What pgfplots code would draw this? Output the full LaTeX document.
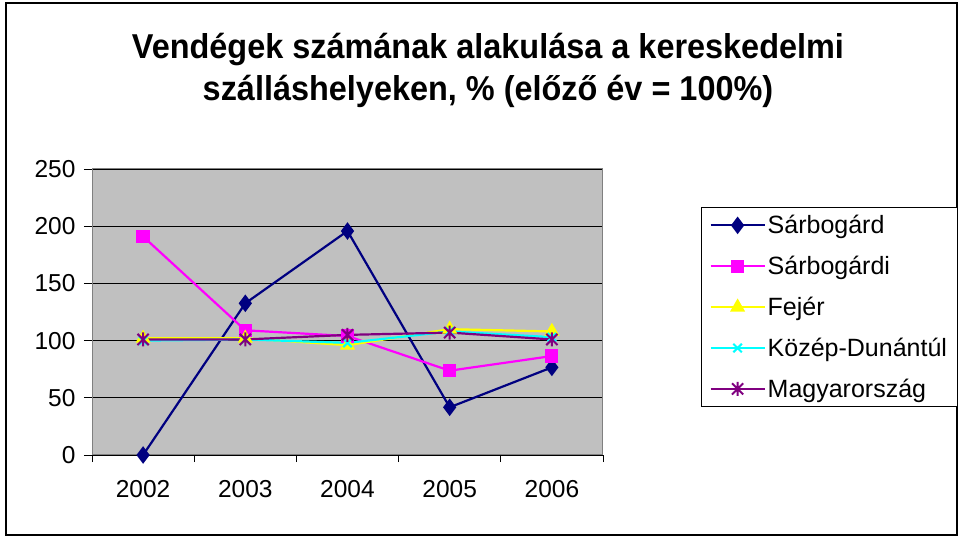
\documentclass[border=0pt]{standalone}
\usepackage{fontspec}
\setmainfont{Liberation Sans}
\newfontfamily\titlefont{Liberation Sans}[FakeStretch=0.94]
\usepackage{pgfplots}
\pgfplotsset{compat=1.18}
\definecolor{plotgray}{HTML}{C0C0C0}
\definecolor{navyc}{HTML}{000080}
\definecolor{magc}{HTML}{FF00FF}
\definecolor{yelc}{HTML}{FFFF00}
\definecolor{cyac}{HTML}{00FFFF}
\definecolor{purc}{HTML}{800080}
\pgfdeclareplotmark{exstar}{%
  \pgfpathmoveto{\pgfqpoint{-0.8\pgfplotmarksize}{-0.8\pgfplotmarksize}}%
  \pgfpathlineto{\pgfqpoint{0.8\pgfplotmarksize}{0.8\pgfplotmarksize}}%
  \pgfpathmoveto{\pgfqpoint{-0.8\pgfplotmarksize}{0.8\pgfplotmarksize}}%
  \pgfpathlineto{\pgfqpoint{0.8\pgfplotmarksize}{-0.8\pgfplotmarksize}}%
  \pgfpathmoveto{\pgfqpoint{0pt}{-\pgfplotmarksize}}%
  \pgfpathlineto{\pgfqpoint{0pt}{\pgfplotmarksize}}%
  \pgfusepathqstroke}
\begin{document}
\begin{tikzpicture}
\fill[white] (0bp,0bp) rectangle (959bp,536bp);
\draw[black, line width=2bp] (6bp,1bp) rectangle (957bp,533bp);
\node[align=center, font=\titlefont\fontsize{34.5bp}{42bp}\selectfont\bfseries] at (488bp,466bp)
  {Vendégek számának alakulása a kereskedelmi\\szálláshelyeken, \% (előző év = 100\%)};
\begin{axis}[
  at={(92bp,81bp)}, anchor=south west,
  scale only axis, width=511bp, height=286bp,
  xmin=-0.5, xmax=4.5, ymin=0, ymax=250,
  xtick={0,1,2,3,4},
  xticklabels={2002,2003,2004,2005,2006},
  minor xtick={-0.5,0.5,1.5,2.5,3.5,4.5},
  ytick={0,50,100,150,200,250},
  major x tick style={draw=none},
  minor tick length=7bp,
  major tick length=8bp,
  tick align=outside,
  tick pos=left,
  tick style={black, line width=0.8bp},
  ymajorgrids,
  grid style={black, line width=0.9bp},
  axis background/.style={fill=plotgray},
  axis line style={draw=gray, line width=1bp},
  /pgf/number format/assume math mode=true,
  ticklabel style={font=\fontsize{24.5bp}{28bp}\selectfont},
  yticklabel style={xshift=-5bp},
  xticklabel style={yshift=-14bp},
  legend style={
    at={(rel axis cs:1.192,0.867)}, anchor=north west,
    draw=black, line width=0.8bp, fill=white,
    font=\fontsize{25bp}{28bp}\selectfont,
    row sep=17bp, inner xsep=8bp, inner ysep=6bp,
  },
  legend cell align=left,
  legend image code/.code={\draw[mark repeat=2,mark phase=2] plot coordinates {(0bp,0bp) (27bp,0bp) (54bp,0bp)};},
  clip=false,
]
\addplot[color=navyc, line width=2.2bp, mark=diamond*, mark size=7bp, mark options={solid, fill=navyc}]
  coordinates {(0,0) (1,132.6) (2,195.8) (3,41.7) (4,76.6)};
\addlegendentry{Sárbogárd}
\addplot[color=magc, line width=2.2bp, mark=square*, mark size=5.5bp, mark options={solid, fill=magc}]
  coordinates {(0,191) (1,109) (2,104) (3,73.7) (4,86.5)};
\addlegendentry{Sárbogárdi}
\addplot[color=yelc, line width=2.2bp, mark=triangle*, mark size=6.5bp, mark options={solid, fill=yelc}]
  coordinates {(0,102) (1,102) (2,96) (3,110) (4,108)};
\addlegendentry{Fejér}
\addplot[color=cyac, line width=2.2bp, mark=x, mark size=6bp, mark options={solid, line width=2bp}]
  coordinates {(0,100) (1,101) (2,98) (3,108) (4,103)};
\addlegendentry{Közép-Dunántúl}
\addplot[color=purc, line width=2.2bp, mark=exstar, mark size=7bp, mark options={solid, line width=2bp}]
  coordinates {(0,101) (1,101) (2,105) (3,107) (4,101)};
\addlegendentry{Magyarország}
\end{axis}
\end{tikzpicture}
\end{document}
